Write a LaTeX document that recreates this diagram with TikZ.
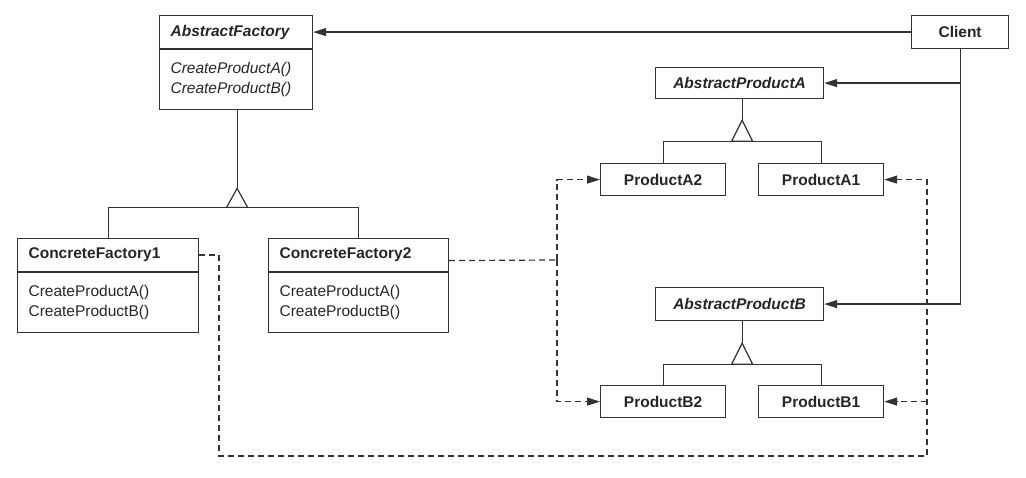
\documentclass[tikz,border=0pt]{standalone}
\usepackage{fontspec}
\setmainfont{Liberation Sans}
\usetikzlibrary{arrows.meta,calc}
\definecolor{ink}{HTML}{262626}
\definecolor{wire}{HTML}{333333}
\begin{document}
\begin{tikzpicture}[x=1pt,y=-1pt,
  every node/.style={text=ink, font=\fontsize{15.5}{20}\selectfont},
  classbox/.style={draw=wire, line width=1.2pt, inner ysep=0pt, anchor=north west},
  hdrbox/.style={classbox, inner xsep=11pt, text width=#1-22pt, align=left, minimum height=33pt},
  membox/.style={classbox, inner xsep=11pt, text width=#1-22pt, align=left, minimum height=60pt},
  cbox/.style={classbox, inner xsep=0pt, align=center, minimum width=#1},
  wire/.style={draw=wire, line width=1.2pt},
  dep/.style={wire, dash pattern=on 6pt off 4pt},
  tip/.style={-{Triangle[length=13pt,width=8pt]}},
  isa/.style={wire, fill=white, line join=miter}
]
\useasboundingbox (0,0) rectangle (1026,478);

% abstract factory and its two concrete subclasses
\node[hdrbox=153pt] (af) at (159,15) {\textbf{\textit{AbstractFactory}}};
\node[membox=153pt] (afb) at (af.south west) {\textit{CreateProductA()}\\\textit{CreateProductB()}};

\node[hdrbox=181pt] (cf1) at (17,238) {\textbf{ConcreteFactory1}};
\node[membox=181pt] (cf1b) at (cf1.south west) {CreateProductA()\\CreateProductB()};

\node[hdrbox=180pt] (cf2) at (268,238) {\textbf{ConcreteFactory2}};
\node[membox=180pt] (cf2b) at (cf2.south west) {CreateProductA()\\CreateProductB()};

% client
\node[cbox=97pt, minimum height=33pt] (client) at (911,15) {\textbf{Client}};

% product hierarchies
\node[cbox=168pt, minimum height=31pt] (apa) at (655,67) {\textbf{\textit{AbstractProductA}}};
\node[cbox=125pt, minimum height=32pt] (pa2) at (600,163) {\textbf{ProductA2}};
\node[cbox=125pt, minimum height=32pt] (pa1) at (758,163) {\textbf{ProductA1}};

\node[cbox=168pt, minimum height=33pt] (apb) at (655,287) {\textbf{\textit{AbstractProductB}}};
\node[cbox=125pt, minimum height=32pt] (pb2) at (600,385) {\textbf{ProductB2}};
\node[cbox=125pt, minimum height=32pt] (pb1) at (758,385) {\textbf{ProductB1}};

% generalisation: AbstractFactory
\coordinate (tf) at ($(afb.south)+(1,78)$);
\draw[wire] (cf1.north) |- ($(tf)+(0,19)$) -| (cf2.north);
\draw[wire] (afb.south -| tf) -- (tf);
\draw[isa] (tf) -- ++(-10.5,19) -- ++(21,0) -- cycle;

% generalisation: AbstractProductA
\coordinate (ta) at ($(apa.south)+(2.5,21)$);
\draw[wire] (pa2.north) |- ($(ta)+(0,21)$) -| (pa1.north);
\draw[wire] (apa.south -| ta) -- (ta);
\draw[isa] (ta) -- ++(-10.5,21) -- ++(21,0) -- cycle;

% generalisation: AbstractProductB
\coordinate (tb) at ($(apb.south)+(2.5,22)$);
\draw[wire] (pb2.north) |- ($(tb)+(0,21)$) -| (pb1.north);
\draw[wire] (apb.south -| tb) -- (tb);
\draw[isa] (tb) -- ++(-10.5,21) -- ++(21,0) -- cycle;

% client associations
\draw[wire, tip] (client.west) -- (client.west -| af.east);
\draw[wire, tip] (client.south) |- (apb.east);
\draw[wire, tip] (client.south |- apa.east) -- (apa.east);

% creation dependencies
\coordinate (dl) at (219,456);
\coordinate (dr) at (927,456);
\coordinate (jl) at (557,260);
\draw[dep, tip] (cf1.east) -| (dl) -| (dr |- pa1.east) -- (pa1.east);
\draw[dep, tip] (dr |- pb1.east) -- (pb1.east);
\draw[dep] ($(cf2.east)+(0,5.5)$) -- (jl);
\draw[dep, tip] (jl) |- (pa2.west);
\draw[dep, tip] (jl) |- (pb2.west);
\end{tikzpicture}
\end{document}
